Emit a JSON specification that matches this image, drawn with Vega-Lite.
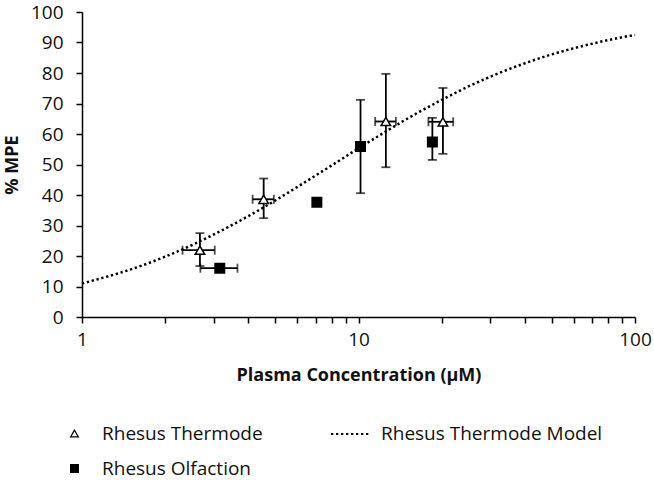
{
  "$schema": "https://vega.github.io/schema/vega-lite/v6.json",
  "width": 553,
  "height": 305,
  "autosize": {"type": "none"},
  "padding": {"left": 82, "top": 12, "right": 19, "bottom": 163},
  "background": "white",
  "config": {
    "view": {"stroke": null},
    "font": "Open Sans",
    "axis": {
      "grid": false,
      "domainColor": "black",
      "domainWidth": 1.5,
      "tickColor": "black",
      "tickWidth": 1.5,
      "tickSize": 6,
      "labelFont": "Open Sans",
      "labelFontSize": 19,
      "labelColor": "#111",
      "titleFont": "Open Sans",
      "titleFontSize": 18,
      "titleFontWeight": "bold",
      "titleColor": "#111"
    },
    "legend": {
      "labelFont": "Open Sans",
      "labelFontSize": 19,
      "labelColor": "#111",
      "labelLimit": 400
    }
  },
  "datasets": {
    "pts": [
      {"series": "Rhesus Thermode", "x": 2.67, "y": 21.9, "xlo": 2.31, "xhi": 3.02, "ylo": 16.7, "yhi": 27.5},
      {"series": "Rhesus Thermode", "x": 4.54, "y": 38.6, "xlo": 4.14, "xhi": 4.94, "ylo": 32.4, "yhi": 45.4},
      {"series": "Rhesus Thermode", "x": 12.56, "y": 64.1, "xlo": 11.49, "xhi": 13.65, "ylo": 49.1, "yhi": 79.7},
      {"series": "Rhesus Thermode", "x": 20.2, "y": 64.0, "xlo": 17.9, "xhi": 22.0, "ylo": 53.5, "yhi": 75.1},
      {"series": "Rhesus Olfaction", "x": 3.15, "y": 16.0, "xlo": 2.68, "xhi": 3.65, "ylo": null, "yhi": null},
      {"series": "Rhesus Olfaction", "x": 7.07, "y": 37.6, "xlo": null, "xhi": null, "ylo": null, "yhi": null},
      {"series": "Rhesus Olfaction", "x": 10.17, "y": 55.9, "xlo": null, "xhi": null, "ylo": 40.6, "yhi": 71.2},
      {"series": "Rhesus Olfaction", "x": 18.5, "y": 57.4, "xlo": null, "xhi": null, "ylo": 51.5, "yhi": 65.3}
    ],
    "model": [
      {"series": "Rhesus Thermode Model", "x": 1, "y": 11.0},
      {"series": "Rhesus Thermode Model", "x": 1.25, "y": 13.4},
      {"series": "Rhesus Thermode Model", "x": 1.5, "y": 15.6},
      {"series": "Rhesus Thermode Model", "x": 2, "y": 19.8},
      {"series": "Rhesus Thermode Model", "x": 2.5, "y": 23.6},
      {"series": "Rhesus Thermode Model", "x": 3, "y": 27.1},
      {"series": "Rhesus Thermode Model", "x": 4, "y": 33.1},
      {"series": "Rhesus Thermode Model", "x": 5, "y": 38.2},
      {"series": "Rhesus Thermode Model", "x": 6, "y": 42.6},
      {"series": "Rhesus Thermode Model", "x": 7, "y": 46.4},
      {"series": "Rhesus Thermode Model", "x": 8, "y": 49.7},
      {"series": "Rhesus Thermode Model", "x": 10, "y": 55.3},
      {"series": "Rhesus Thermode Model", "x": 12.5, "y": 60.7},
      {"series": "Rhesus Thermode Model", "x": 15, "y": 65.0},
      {"series": "Rhesus Thermode Model", "x": 20, "y": 71.2},
      {"series": "Rhesus Thermode Model", "x": 25, "y": 75.6},
      {"series": "Rhesus Thermode Model", "x": 30, "y": 78.8},
      {"series": "Rhesus Thermode Model", "x": 40, "y": 83.2},
      {"series": "Rhesus Thermode Model", "x": 50, "y": 86.1},
      {"series": "Rhesus Thermode Model", "x": 60, "y": 88.1},
      {"series": "Rhesus Thermode Model", "x": 70, "y": 89.6},
      {"series": "Rhesus Thermode Model", "x": 80, "y": 90.8},
      {"series": "Rhesus Thermode Model", "x": 100, "y": 92.5}
    ]
  },
  "encoding": {
    "x": {
      "field": "x", "type": "quantitative",
      "scale": {"type": "log", "domain": [1, 100], "nice": false},
      "axis": {
        "title": "Plasma Concentration (µM)",
        "values": [1,2,3,4,5,6,7,8,9,10,20,30,40,50,60,70,80,90,100],
        "labelExpr": "indexof([1,10,100], datum.value) >= 0 ? format(datum.value, 'd') : ''",
        "labelPadding": 7,
        "labelFlush": false,
        "labelOverlap": false,
        "titlePadding": 17
      }
    },
    "y": {
      "field": "y", "type": "quantitative",
      "scale": {"domain": [0, 100], "nice": false},
      "axis": {
        "title": "% MPE",
        "values": [0,10,20,30,40,50,60,70,80,90,100],
        "labelPadding": 13,
        "titlePadding": 9
      }
    }
  },
  "layer": [
    {
      "data": {"name": "model"},
      "mark": {"type": "line", "color": "black", "strokeWidth": 2.5, "interpolate": "monotone", "strokeCap": "butt"},
      "encoding": {
        "strokeDash": {
          "field": "series", "type": "nominal",
          "scale": {"domain": ["Rhesus Thermode Model"], "range": [[2.3, 2.7]]},
          "legend": {
            "title": null,
            "orient": "none",
            "legendX": 248,
            "legendY": 401,
            "symbolType": "stroke",
            "symbolSize": 1600,
            "symbolStrokeColor": "black",
            "symbolStrokeWidth": 2,
            "labelOffset": 9
          }
        }
      }
    },
    {
      "data": {"name": "pts"},
      "transform": [{"filter": "isValid(datum.ylo)"}],
      "mark": {"type": "rule", "color": "black", "strokeWidth": 1.8},
      "encoding": {"y": {"field": "ylo", "type": "quantitative"}, "y2": {"field": "yhi"}}
    },
    {
      "data": {"name": "pts"},
      "transform": [{"filter": "isValid(datum.ylo)"}],
      "mark": {"type": "tick", "color": "black", "orient": "horizontal", "size": 9, "thickness": 1.8},
      "encoding": {"y": {"field": "ylo", "type": "quantitative"}}
    },
    {
      "data": {"name": "pts"},
      "transform": [{"filter": "isValid(datum.yhi)"}],
      "mark": {"type": "tick", "color": "black", "orient": "horizontal", "size": 9, "thickness": 1.8},
      "encoding": {"y": {"field": "yhi", "type": "quantitative"}}
    },
    {
      "data": {"name": "pts"},
      "transform": [{"filter": "isValid(datum.xlo)"}],
      "mark": {"type": "rule", "color": "black", "strokeWidth": 1.8},
      "encoding": {"x": {"field": "xlo", "type": "quantitative"}, "x2": {"field": "xhi"}}
    },
    {
      "data": {"name": "pts"},
      "transform": [{"filter": "isValid(datum.xlo)"}],
      "mark": {"type": "tick", "color": "black", "orient": "vertical", "size": 9, "thickness": 1.8},
      "encoding": {"x": {"field": "xlo", "type": "quantitative"}}
    },
    {
      "data": {"name": "pts"},
      "transform": [{"filter": "isValid(datum.xhi)"}],
      "mark": {"type": "tick", "color": "black", "orient": "vertical", "size": 9, "thickness": 1.8},
      "encoding": {"x": {"field": "xhi", "type": "quantitative"}}
    },
    {
      "data": {"name": "pts"},
      "mark": {"type": "point", "strokeWidth": 1.5, "opacity": 1, "size": 90},
      "encoding": {
        "shape": {
          "field": "series", "type": "nominal",
          "scale": {"domain": ["Rhesus Thermode", "Rhesus Olfaction"], "range": ["triangle-up", "square"]},
          "legend": {
            "title": null,
            "orient": "none",
            "legendX": -17,
            "legendY": 412,
            "direction": "vertical",
            "symbolSize": 60,
            "symbolStrokeWidth": 1.2,
            "labelOffset": 18,
            "rowPadding": 15
          }
        },
        "fill": {
          "field": "series", "type": "nominal",
          "scale": {"domain": ["Rhesus Thermode", "Rhesus Olfaction"], "range": ["white", "black"]},
          "legend": {
            "title": null,
            "orient": "none",
            "legendX": -17,
            "legendY": 412,
            "direction": "vertical",
            "symbolSize": 60,
            "symbolStrokeWidth": 1.2,
            "labelOffset": 18,
            "rowPadding": 15
          }
        },
        "stroke": {
          "field": "series", "type": "nominal",
          "scale": {"domain": ["Rhesus Thermode", "Rhesus Olfaction"], "range": ["black", "black"]},
          "legend": {
            "title": null,
            "orient": "none",
            "legendX": -17,
            "legendY": 412,
            "direction": "vertical",
            "symbolSize": 60,
            "symbolStrokeWidth": 1.2,
            "labelOffset": 18,
            "rowPadding": 15
          }
        }
      }
    }
  ]
}
